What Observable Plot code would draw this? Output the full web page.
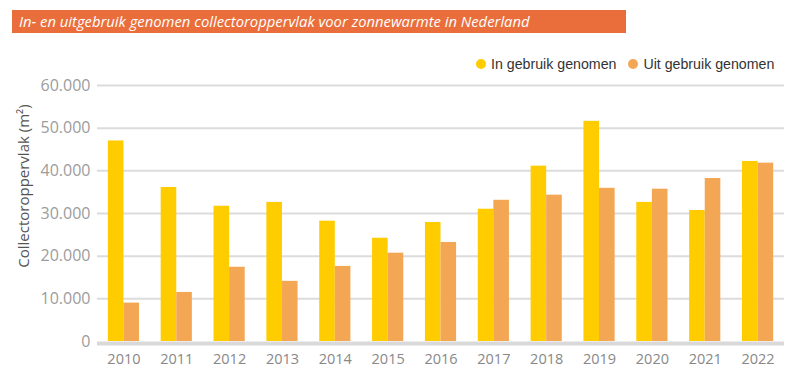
<!DOCTYPE html>
<html>
<head>
<meta charset="utf-8">
<script src="https://cdn.jsdelivr.net/npm/d3@7"></script>
<script src="https://cdn.jsdelivr.net/npm/@observablehq/plot@0.6"></script>
<style>
  body { margin: 0; background: #fff; }
  #wrap { position: relative; width: 800px; height: 380px; overflow: hidden; }
  #title { position: absolute; left: 12px; top: 10px; width: 607px; height: 23px; background: #EA6E3B; color: #fff;
           font-family: "Open Sans", sans-serif; font-style: italic; font-size: 14.8px; line-height: 23px; padding-left: 7px; white-space: nowrap; }
  #legend { position: absolute; top: 56px; left: 476px; font-family: "Liberation Sans", Arial, sans-serif; font-size: 14.2px; color: #333; display: flex; gap: 12px; }
  #legend span.item { display: flex; align-items: center; }
  #legend i { display: inline-block; width: 10px; height: 10px; border-radius: 50%; margin-right: 5px; }
  #chart { position: absolute; top: 75px; left: 0; }
  #ylabel { position: absolute; left: 23px; top: 186px; transform: translate(-50%, -50%) rotate(-90deg); font-family: "Open Sans", sans-serif; font-size: 15px; color: #555; white-space: nowrap; }
  #chart g[aria-label^="x-axis"] text { fill: #888; font-size: 14.5px; }
  #chart g[aria-label^="y-axis"] text { fill: #9c9c9c; font-size: 16px; }
</style>
</head>
<body>
<div id="wrap">
  <div id="title">In- en uitgebruik genomen collectoroppervlak voor zonnewarmte in Nederland</div>
  <div id="legend"></div>
  <div id="chart"></div>
  <div id="ylabel">Collectoroppervlak (m²)</div>
</div>
<script>
const years = [2010, 2011, 2012, 2013, 2014, 2015, 2016, 2017, 2018, 2019, 2020, 2021, 2022];
const inGebruik = [47000, 36100, 31700, 32600, 28200, 24200, 27900, 31000, 41100, 51600, 32600, 30700, 42200];
const uitGebruik = [9000, 11500, 17400, 14100, 17600, 20700, 23200, 33100, 34300, 35900, 35700, 38200, 41800];
const seriesNames = ["In gebruik genomen", "Uit gebruik genomen"];
const seriesColors = ["#FFCC00", "#F3A654"];
const yTicks = [0, 10000, 20000, 30000, 40000, 50000, 60000];

const data = years.flatMap((yr, i) => [
  {year: yr, series: seriesNames[0], value: inGebruik[i]},
  {year: yr, series: seriesNames[1], value: uitGebruik[i]}
]);

const half = 0.295; // bar width in years
const nl = d3.formatLocale({decimal: ",", thousands: ".", grouping: [3], currency: ["€", ""]});
const fmt = nl.format(",");

const legend = document.getElementById("legend");
seriesNames.forEach((s, i) => {
  const el = document.createElement("span");
  el.className = "item";
  el.innerHTML = `<i style="background:${seriesColors[i]}"></i>${s}`;
  legend.appendChild(el);
});

const chart = Plot.plot({
  width: 800,
  height: 305,
  marginTop: 10,
  marginBottom: 39,
  marginLeft: 97,
  marginRight: 16,
  style: {fontFamily: "'Open Sans', sans-serif", fontSize: "15px", background: "transparent"},
  x: {domain: [2009.5, 2022.5], ticks: years, tickFormat: d => String(d), tickSize: 0, tickPadding: 12, label: null},
  y: {domain: [0, 60000], ticks: yTicks, tickFormat: fmt, tickSize: 0, tickPadding: 7, label: null},
  color: {domain: seriesNames, range: seriesColors},
  marks: [
    Plot.ruleY(yTicks.slice(1), {stroke: "#dcdcdc", strokeWidth: 2}),
    Plot.rectY(data, {
      x1: d => d.series === seriesNames[0] ? d.year - half : d.year,
      x2: d => d.series === seriesNames[0] ? d.year : d.year + half,
      y: "value",
      fill: "series"
    }),
    Plot.ruleY([0], {stroke: "#d9d9d9", strokeWidth: 4, dy: 2})
  ]
});
document.getElementById("chart").appendChild(chart);
</script>
</body>
</html>
